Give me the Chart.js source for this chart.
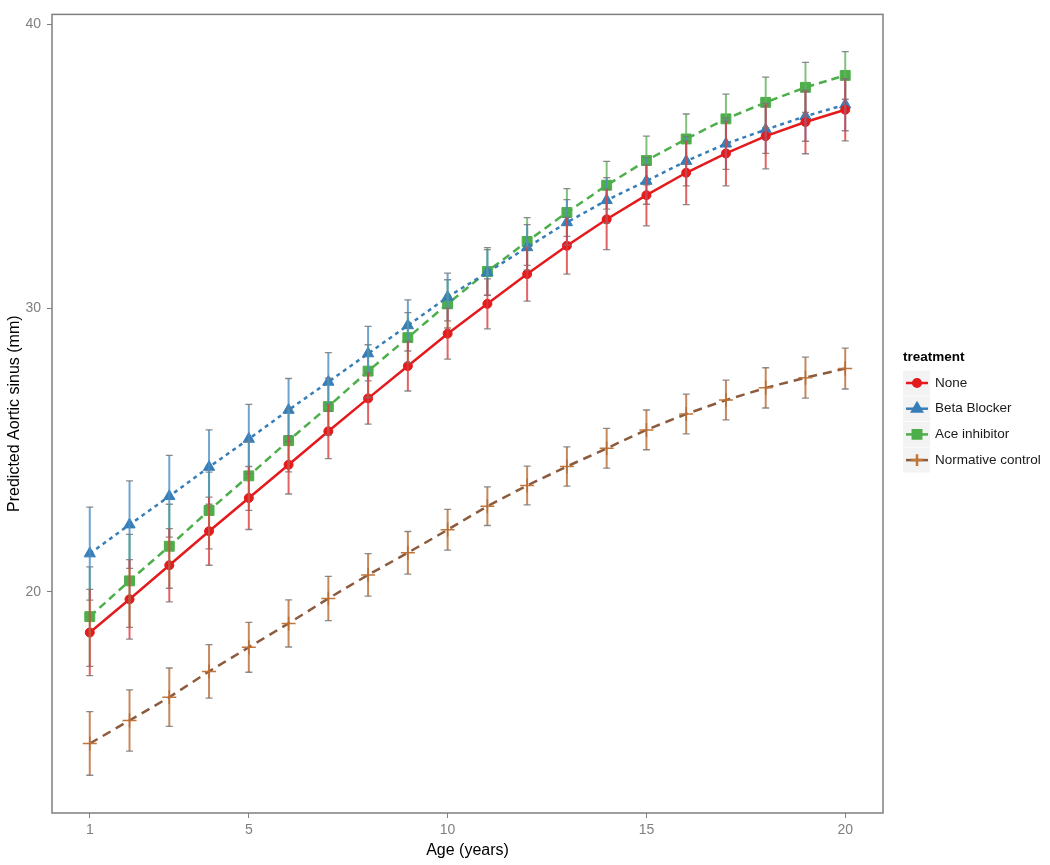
<!DOCTYPE html>
<html>
<head>
<meta charset="utf-8">
<title>Predicted Aortic sinus by age</title>
<script src="https://cdn.jsdelivr.net/npm/chart.js@4.4.1/dist/chart.umd.min.js"></script>
<style>
  html, body { margin:0; padding:0; background:#fff; }
  #wrap { width:1050px; height:865px; }
</style>
</head>
<body>
<div id="wrap"><canvas id="aorta" width="1050" height="865"></canvas></div>
<script>
/* ---- data ---- */
const ages   = [1, 2, 3, 4, 5, 6, 7, 8, 9, 10, 11, 12, 13, 14, 15, 16, 17, 18, 19, 20];
const xTicks = [1, 5, 10, 15, 20];
const yTicks = [20, 30, 40];

const noneMean = [18.57, 19.74, 20.94, 22.14, 23.31, 24.48, 25.66, 26.82, 27.96, 29.10, 30.15, 31.20, 32.20, 33.13, 33.98, 34.77, 35.45, 36.06, 36.56, 36.99];
const noneErr  = [1.52, 1.40, 1.29, 1.20, 1.11, 1.03, 0.96, 0.91, 0.88, 0.90, 0.88, 0.95, 1.00, 1.07, 1.08, 1.12, 1.14, 1.15, 1.12, 1.10];

const betaMean = [21.35, 22.37, 23.37, 24.40, 25.39, 26.41, 27.40, 28.40, 29.39, 30.39, 31.26, 32.14, 33.02, 33.80, 34.48, 35.18, 35.79, 36.29, 36.76, 37.17];
const betaErr  = [1.64, 1.54, 1.44, 1.31, 1.22, 1.11, 1.03, 0.96, 0.90, 0.84, 0.80, 0.80, 0.80, 0.80, 0.82, 0.87, 0.90, 0.84, 0.88, 0.92];

const aceMean  = [19.13, 20.39, 21.61, 22.87, 24.09, 25.33, 26.53, 27.78, 28.96, 30.15, 31.29, 32.35, 33.37, 34.33, 35.20, 35.96, 36.67, 37.25, 37.78, 38.20];
const aceErr   = [1.75, 1.64, 1.48, 1.35, 1.22, 1.10, 1.00, 0.93, 0.88, 0.85, 0.84, 0.84, 0.84, 0.84, 0.86, 0.88, 0.87, 0.89, 0.88, 0.84];

const normMean = [14.66, 15.47, 16.29, 17.20, 18.05, 18.89, 19.77, 20.60, 21.38, 22.19, 23.02, 23.75, 24.42, 25.06, 25.71, 26.27, 26.76, 27.19, 27.55, 27.87];
const normErr  = [1.12, 1.08, 1.03, 0.94, 0.88, 0.83, 0.78, 0.75, 0.75, 0.72, 0.68, 0.68, 0.69, 0.70, 0.70, 0.70, 0.70, 0.71, 0.72, 0.72];

const FONT = '"Liberation Sans", Arial, Helvetica, sans-serif';
const pts = (ys) => ages.map((a, i) => ({ x: a, y: ys[i] }));

/* ---- plugins ---- */
// grey box round the panel (theme_bw style)
const panelFrame = {
  id: 'panelFrame',
  afterDraw(chart) {
    const { ctx, chartArea: a } = chart;
    ctx.save();
    ctx.strokeStyle = '#7f7f7f';
    ctx.lineWidth = 1.5;
    ctx.strokeRect(a.left, a.top, a.right - a.left, a.bottom - a.top);
    ctx.restore();
  }
};

// vertical error bars with small caps
const errorBars = {
  id: 'errorBars',
  afterDatasetsDraw(chart) {
    const { ctx, scales: { x, y } } = chart;
    chart.data.datasets.slice().reverse().forEach(ds => {
      ctx.save();
      ds.data.forEach((p, j) => {
        const px  = x.getPixelForValue(p.x);
        const top = y.getPixelForValue(p.y + ds.errors[j]);
        const bot = y.getPixelForValue(p.y - ds.errors[j]);
        ctx.globalAlpha = 0.8;
        ctx.strokeStyle = ds.barColor;
        ctx.lineWidth = 2;
        ctx.beginPath(); ctx.moveTo(px, top); ctx.lineTo(px, bot); ctx.stroke();
        ctx.globalAlpha = 0.85;
        ctx.strokeStyle = '#777';
        ctx.lineWidth = 1.3;
        ctx.beginPath();
        ctx.moveTo(px - 3.5, top); ctx.lineTo(px + 3.5, top);
        ctx.moveTo(px - 3.5, bot); ctx.lineTo(px + 3.5, bot);
        ctx.stroke();
      });
      ctx.restore();
    });
  }
};

// ggplot-like legend on the right
const keyLegend = {
  id: 'keyLegend',
  afterDraw(chart) {
    const ctx = chart.ctx;
    ctx.save();
    ctx.textAlign = 'left';
    ctx.textBaseline = 'middle';
    ctx.fillStyle = '#000';
    ctx.font = 'bold 13.5px ' + FONT;
    ctx.fillText('treatment', 903, 357);
    chart.data.datasets.forEach((ds, i) => {
      const cy = 383 + i * 25.7;
      ctx.fillStyle = '#f3f3f3';
      ctx.fillRect(903, cy - 12.5, 27, 25);
      ctx.save();
      ctx.strokeStyle = ds.borderColor;
      ctx.lineWidth = 2.5;
      ctx.beginPath(); ctx.moveTo(906, cy); ctx.lineTo(928, cy); ctx.stroke();
      ctx.fillStyle = ds.pointBackgroundColor;
      ctx.strokeStyle = ds.pointBorderColor;
      Chart.helpers.drawPoint(ctx, {
        pointStyle: ds.pointStyle, radius: ds.pointRadius * 0.85,
        rotation: 0, borderWidth: ds.pointBorderWidth
      }, 917, cy);
      ctx.restore();
      ctx.fillStyle = '#1a1a1a';
      ctx.font = '13.5px ' + FONT;
      ctx.fillText(ds.label, 935, cy);
    });
    ctx.restore();
  }
};

/* ---- chart ---- */
new Chart(document.getElementById('aorta'), {
  type: 'line',
  data: {
    datasets: [
      { label: 'None', data: pts(noneMean), errors: noneErr, barColor: '#e0393b',
        borderColor: '#e41a1c', borderWidth: 2.5,
        pointStyle: 'circle', pointRadius: 4.5, pointBackgroundColor: '#e41a1c', pointBorderColor: '#e41a1c', pointBorderWidth: 1 },
      { label: 'Beta Blocker', data: pts(betaMean), errors: betaErr, barColor: '#4b8dc3',
        borderColor: '#377eb8', borderWidth: 2.5, borderDash: [4, 4],
        pointStyle: 'triangle', pointRadius: 6.5, pointBackgroundColor: '#377eb8', pointBorderColor: '#377eb8', pointBorderWidth: 1 },
      { label: 'Ace inhibitor', data: pts(aceMean), errors: aceErr, barColor: '#63b35f',
        borderColor: '#4daf4a', borderWidth: 2.5, borderDash: [8, 5],
        pointStyle: 'rect', pointRadius: 7, pointBackgroundColor: '#4daf4a', pointBorderColor: '#4daf4a', pointBorderWidth: 1 },
      { label: 'Normative control', data: pts(normMean), errors: normErr, barColor: '#b96a32',
        borderColor: '#8c5a3c', borderWidth: 2.5, borderDash: [9, 6],
        pointStyle: 'cross', pointRadius: 7, pointBackgroundColor: '#c0753a', pointBorderColor: '#c0753a', pointBorderWidth: 1.5 }
    ]
  },
  options: {
    responsive: false,
    animation: false,
    layout: { padding: { left: 0, top: 11, right: 167, bottom: 0 } },
    plugins: { legend: { display: false }, tooltip: { enabled: false } },
    elements: { line: { tension: 0 } },
    scales: {
      x: {
        type: 'linear', min: 0.05, max: 20.95,
        afterBuildTicks: s => { s.ticks = xTicks.map(v => ({ value: v })); },
        afterFit: s => { s.height = 52; },
        border: { display: false },
        grid: { drawOnChartArea: false, drawTicks: true, tickLength: 5, color: '#7f7f7f', lineWidth: 1 },
        ticks: { color: '#7f7f7f', font: { family: FONT, size: 14 }, padding: 4, maxRotation: 0 },
        title: { display: true, text: 'Age (years)', color: '#000', font: { family: FONT, size: 16 }, padding: { bottom: 5 } }
      },
      y: {
        type: 'linear', min: 12.21, max: 40.35,
        afterBuildTicks: s => { s.ticks = yTicks.map(v => ({ value: v })); },
        afterFit: s => { s.width = 52; },
        border: { display: false },
        grid: { drawOnChartArea: false, drawTicks: true, tickLength: 5, color: '#7f7f7f', lineWidth: 1 },
        ticks: { color: '#7f7f7f', font: { family: FONT, size: 14 }, padding: 6 },
        title: { display: true, text: 'Predicted Aortic sinus (mm)', color: '#000', font: { family: FONT, size: 16 }, padding: { top: 5 } }
      }
    }
  },
  plugins: [errorBars, panelFrame, keyLegend]
});
</script>
</body>
</html>
